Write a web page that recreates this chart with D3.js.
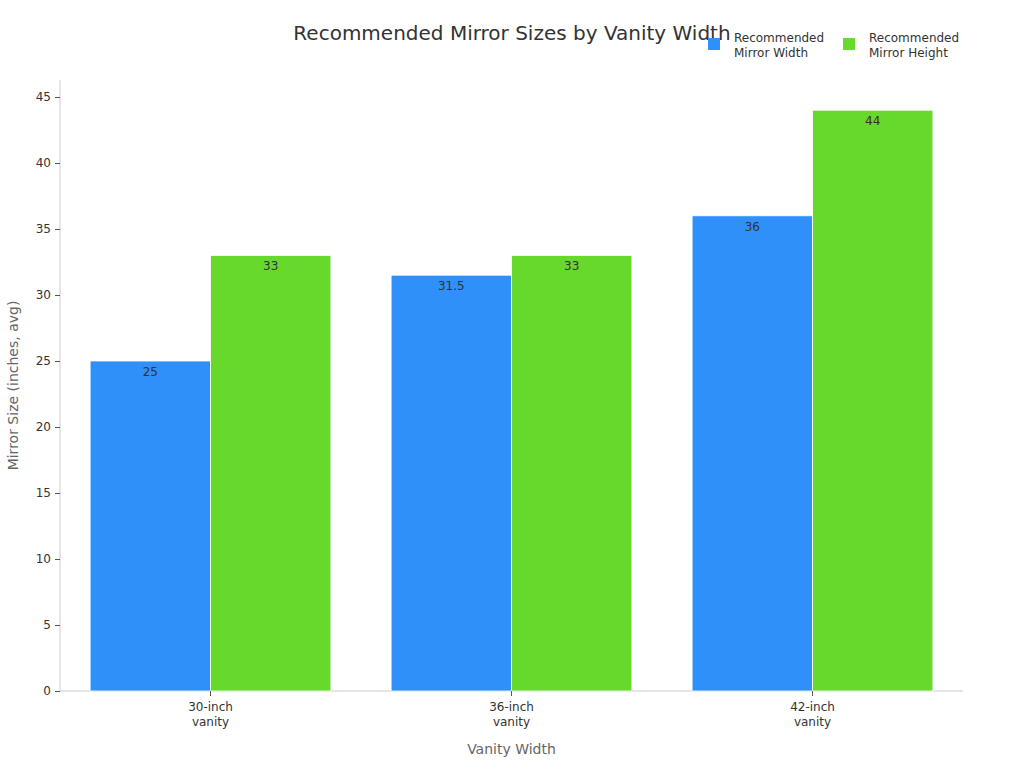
<!DOCTYPE html>
<html>
<head>
<meta charset="utf-8">
<script src="https://cdn.jsdelivr.net/npm/d3@7"></script>
<style>
  body { margin: 0; background: #fff; }
  text { font-family: "DejaVu Sans", sans-serif; }
</style>
</head>
<body>
<div id="chart"></div>
<script>
// chart data
let categories = [['30-inch', 'vanity'], ['36-inch', 'vanity'], ['42-inch', 'vanity']];
let seriesNames = [['Recommended', 'Mirror Width'], ['Recommended', 'Mirror Height']];
let widthValues = [25, 31.5, 36];
let heightValues = [33, 33, 44];
let yTicks = [0, 5, 10, 15, 20, 25, 30, 35, 40, 45];
let colors = ['#2E90F8', '#66D92A'];

let W = 1024, H = 768;
let plot = { left: 60, right: 963, top: 80, bottom: 691 };

let svg = d3.select('#chart').append('svg').attr('width', W).attr('height', H);

let x = d3.scaleBand()
  .domain(categories.map(c => c.join(' ')))
  .range([plot.left, plot.right])
  .paddingInner(0.2).paddingOuter(0.1);
let x1 = d3.scaleBand().domain([0, 1]).range([0, x.bandwidth()]);
let y = d3.scaleLinear().domain([0, 45]).range([plot.bottom, 97]);

// axes lines
svg.append('line').attr('x1', plot.left).attr('x2', plot.left)
  .attr('y1', plot.top).attr('y2', plot.bottom).attr('stroke', '#ccc');
svg.append('line').attr('x1', plot.left).attr('x2', plot.right)
  .attr('y1', plot.bottom).attr('y2', plot.bottom).attr('stroke', '#ccc');

let yAxis = svg.append('g').attr('transform', 'translate(' + plot.left + ',0)')
  .call(d3.axisLeft(y).tickValues(yTicks).tickSize(5).tickPadding(4));
yAxis.select('.domain').remove();
yAxis.selectAll('line').attr('stroke', '#555');
yAxis.selectAll('text').attr('font-size', 12).attr('fill', '#333');

// bars
let series = [widthValues, heightValues];
series.forEach(function(vals, si) {
  let g = svg.append('g');
  g.selectAll('rect').data(vals).enter().append('rect')
    .attr('x', (d, i) => x(categories[i].join(' ')) + x1(si))
    .attr('y', d => y(d))
    .attr('width', x1.bandwidth())
    .attr('height', d => y(0) - y(d))
    .attr('fill', colors[si])
    .attr('stroke', '#fff').attr('stroke-width', 0.8);
  g.selectAll('text').data(vals).enter().append('text')
    .attr('x', (d, i) => x(categories[i].join(' ')) + x1(si) + x1.bandwidth() / 2)
    .attr('y', d => y(d) + 15)
    .attr('text-anchor', 'middle').attr('font-size', 12).attr('fill', '#333')
    .text(d => d);
});

// x tick labels
categories.forEach(function(c) {
  let cx = x(c.join(' ')) + x.bandwidth() / 2;
  svg.append('line').attr('x1', cx).attr('x2', cx)
    .attr('y1', plot.bottom).attr('y2', plot.bottom + 5).attr('stroke', '#555');
  let t = svg.append('text').attr('x', cx).attr('y', plot.bottom + 20)
    .attr('text-anchor', 'middle').attr('font-size', 12).attr('fill', '#333');
  c.forEach((line, i) => t.append('tspan').attr('x', cx).attr('dy', i ? 15 : 0).text(line));
});

// axis titles
svg.append('text').attr('x', (plot.left + plot.right) / 2).attr('y', 754)
  .attr('text-anchor', 'middle').attr('font-size', 14).attr('fill', '#666').text('Vanity Width');
svg.append('text').attr('transform', 'translate(18,' + (plot.top + plot.bottom) / 2 + ') rotate(-90)')
  .attr('text-anchor', 'middle').attr('font-size', 14).attr('fill', '#666').text('Mirror Size (inches, avg)');

// title
svg.append('text').attr('x', 512).attr('y', 40).attr('text-anchor', 'middle')
  .attr('font-size', 20).attr('fill', '#333').text('Recommended Mirror Sizes by Vanity Width');

// legend
let legendX = [708, 843];
seriesNames.forEach(function(n, i) {
  svg.append('rect').attr('x', legendX[i]).attr('y', 38).attr('width', 12).attr('height', 12)
    .attr('fill', colors[i]);
  let t = svg.append('text').attr('x', legendX[i] + 26).attr('y', 42)
    .attr('font-size', 12).attr('fill', '#333');
  n.forEach((line, j) => t.append('tspan').attr('x', legendX[i] + 26).attr('dy', j ? 15 : 0).text(line));
});
</script>
</body>
</html>
